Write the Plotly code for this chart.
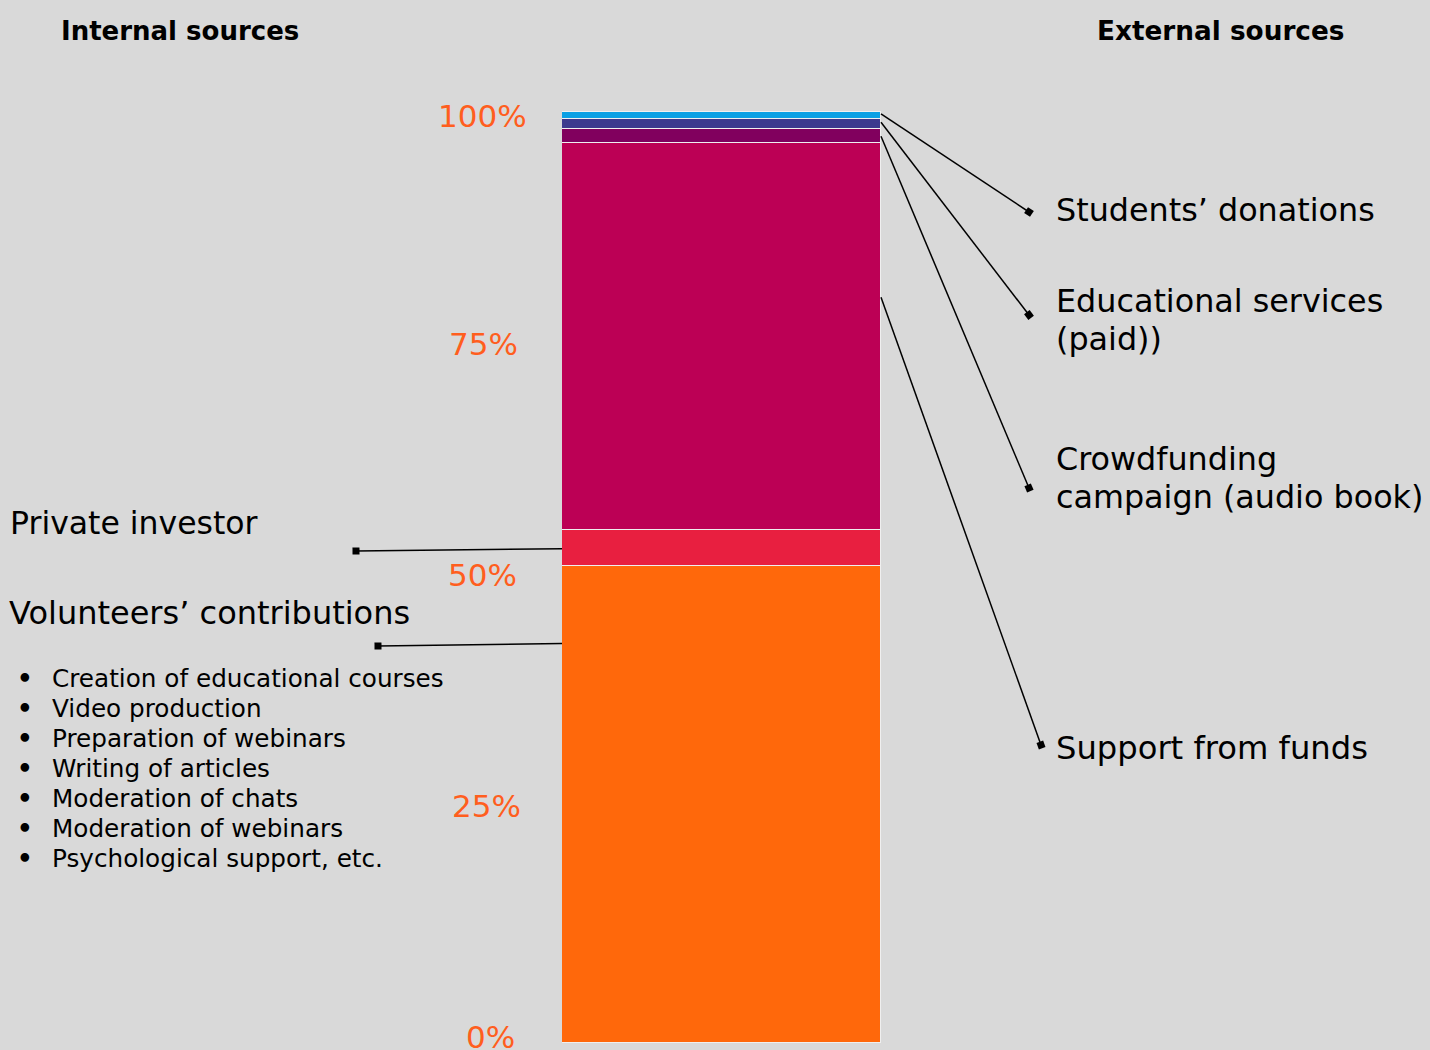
import math
import plotly.graph_objects as go

# ---------------- data ----------------
segments = ["Volunteers’ contributions", "Private investor", "Support from funds",
            "Crowdfunding campaign (audio book)", "Educational services (paid)", "Students’ donations"]
shares = [51.2, 3.9, 41.6, 1.5, 1.1, 0.7]
colors = ["#FF680B", "#E81F40", "#BC0055", "#81005E", "#3C3A8E", "#0AA0E4"]
tick_values = [100, 75, 50, 25, 0]
tick_labels = ["100%", "75%", "50%", "25%", "0%"]
bullets = ["Creation of educational courses", "Video production", "Preparation of webinars",
           "Writing of articles", "Moderation of chats", "Moderation of webinars",
           "Psychological support, etc."]
# where each leader line touches the bar (percent position on the bar)
leader_anchor = [42.9, 53.1, 80.1, 97.4, 98.9, 99.8]

# ---------------- layout helpers ----------------
W, H = 1430, 1050
Y0_PX, Y100_PX = 1043, 112
SC = (Y0_PX - Y100_PX) / 100.0
BAR_L, BAR_R = 562, 881
FONT = "DejaVu Sans"
BG = "#D9D9D9"
PCT = "#FF5E1E"


def yv(ypx):
    return (Y0_PX - ypx) / SC


y_lo = yv(H)
y_hi = yv(0)

fig = go.Figure()
for name, val, col in zip(segments, shares, colors):
    fig.add_trace(go.Bar(x=["sources"], y=[val], name=name, marker_color=col,
                         marker_line=dict(color="#EFEFEF", width=1.2),
                         xaxis="x", yaxis="y", hoverinfo="name+y"))

# leader lines (x in pixels on x2, y in percent units on y)
leader_side = ["L", "L", "R", "R", "R", "R"]
leader_end = [(378, 646), (356, 551), (1041, 745), (1029, 488), (1029, 315), (1029, 212)]
for anc, side, (ex, ey) in zip(leader_anchor, leader_side, leader_end):
    sx = BAR_L if side == "L" else BAR_R
    sy = Y0_PX - anc * SC
    ang = math.degrees(math.atan2(ey - sy, ex - sx))
    fig.add_trace(go.Scatter(x=[sx, ex], y=[anc, yv(ey)], mode="lines",
                             line=dict(color="black", width=1.5),
                             xaxis="x2", yaxis="y", hoverinfo="skip", showlegend=False))
    fig.add_trace(go.Scatter(x=[ex], y=[yv(ey)], mode="markers",
                             marker=dict(symbol="square", size=7, color="black", angle=ang),
                             xaxis="x2", yaxis="y", hoverinfo="skip", showlegend=False))

ann = []


def txt(x, ypx, lines, size, spacing=None, bold=False, color="black", xanchor="left"):
    """Text block; line spacing set via base font size, glyph size via span style."""
    base = size if spacing is None else spacing / 1.3
    body = "<br>".join('<span style="font-size:%.1fpx">%s</span>' % (size, ln) for ln in lines)
    if bold:
        body = "<b>%s</b>" % body
    ann.append(dict(x=x, y=yv(ypx), xref="x2", yref="y", text=body,
                    showarrow=False, xanchor=xanchor, yanchor="middle", align="left",
                    font=dict(family=FONT, size=base, color=color)))


txt(59, 31, ["Internal sources"], 26, bold=True)
txt(1095, 31, ["External sources"], 26.3, bold=True)
txt(1054, 209, ["Students’ donations"], 31.8)
txt(1054, 319, ["Educational services", "(paid))"], 31.8, spacing=38)
txt(1054, 477, ["Crowdfunding", "campaign (audio book)"], 31.8, spacing=37.6)
txt(1054, 748, ["Support from funds"], 32.2)
txt(8, 523, ["Private investor"], 31.5)
txt(7, 613, ["Volunteers’ contributions"], 32)
txt(25, 768, ["•"] * len(bullets), 24.5, spacing=30, bold=True, xanchor="center")
txt(50, 768, bullets, 24.7, spacing=30)

pct_y_px = [116, 344, 575, 806, 1037]
pct_x = [482, 483, 482, 486, 490]
for v, lab, px, py in zip(tick_values, tick_labels, pct_x, pct_y_px):
    ann.append(dict(x=px, y=v, xref="x2", yref="y", text=lab, showarrow=False,
                    xanchor="center", yanchor="middle", yshift=(Y0_PX - v * SC) - py,
                    font=dict(family=FONT, size=31, color=PCT)))

fig.update_layout(
    width=W, height=H, margin=dict(l=0, r=0, t=0, b=0),
    paper_bgcolor=BG, plot_bgcolor="rgba(0,0,0,0)", barmode="stack", bargap=0,
    showlegend=False, annotations=ann,
    xaxis=dict(domain=[BAR_L / W, BAR_R / W], visible=False, fixedrange=True),
    xaxis2=dict(domain=[0, 1], range=[0, W], visible=False, anchor="y", fixedrange=True),
    yaxis=dict(domain=[0, 1], range=[y_lo, y_hi], visible=False, fixedrange=True),
)

fig.write_html("out.html", config={"displayModeBar": False},
               post_script="document.body.style.margin='0';document.body.style.background='#D9D9D9';")
